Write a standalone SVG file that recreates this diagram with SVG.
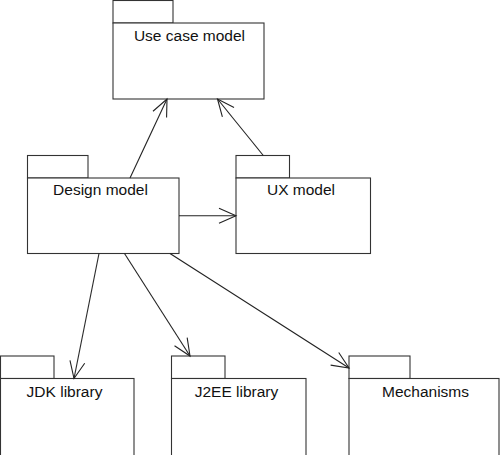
<svg xmlns="http://www.w3.org/2000/svg" width="500" height="455" viewBox="0 0 500 455">
<style>
.pk{fill:#fff;stroke:#333;stroke-width:1.1}
.lbl{font-family:"Liberation Sans",Arial,Helvetica,sans-serif;font-size:15.5px;fill:#111;text-anchor:middle}
.con{stroke:#222;stroke-width:1.1;fill:none}
</style>
<defs>
<marker id="open" viewBox="-20 -10 22 20" markerWidth="22" markerHeight="20" refX="0" refY="0" orient="auto" markerUnits="userSpaceOnUse">
<path d="M-17,-7.5 L0,0 L-17,7.5" fill="none" stroke="#222" stroke-width="1.1"/>
</marker>
</defs>
<rect width="500" height="455" fill="#fff"/>
<g id="use-case-model">
<rect class="pk" x="113" y="0.5" width="60" height="22.5"/>
<rect class="pk" x="113" y="23" width="151" height="76"/>
<text class="lbl" x="189.5" y="41">Use case model</text>
</g>
<g id="design-model">
<rect class="pk" x="27.5" y="155.5" width="60.5" height="22.5"/>
<rect class="pk" x="27.5" y="178" width="151.5" height="75.5"/>
<text class="lbl" x="100.5" y="195">Design model</text>
</g>
<g id="ux-model">
<rect class="pk" x="236" y="155.5" width="53.5" height="22.5"/>
<rect class="pk" x="236" y="178" width="134.5" height="75.5"/>
<text class="lbl" x="301" y="195">UX model</text>
</g>
<g id="jdk-library">
<rect class="pk" x="0.5" y="356" width="53.5" height="22.5"/>
<rect class="pk" x="0.5" y="378.5" width="133.5" height="80"/>
<text class="lbl" x="64.5" y="396.5">JDK library</text>
</g>
<g id="j2ee-library">
<rect class="pk" x="171.5" y="356" width="53.5" height="22.5"/>
<rect class="pk" x="171.5" y="378.5" width="134.5" height="80"/>
<text class="lbl" x="236.5" y="396.5">J2EE library</text>
</g>
<g id="mechanisms">
<rect class="pk" x="349" y="356" width="61" height="22.5"/>
<rect class="pk" x="349" y="378.5" width="150" height="80"/>
<text class="lbl" x="425.5" y="396.5">Mechanisms</text>
</g>
<g id="connectors">
<line class="con" x1="130" y1="178" x2="167" y2="99" marker-end="url(#open)"/>
<line class="con" x1="263.3" y1="155.5" x2="217.5" y2="99" marker-end="url(#open)"/>
<line class="con" x1="179" y1="215.7" x2="236" y2="215.7" marker-end="url(#open)"/>
<line class="con" x1="99" y1="253.5" x2="74" y2="378.5" marker-end="url(#open)"/>
<line class="con" x1="124.5" y1="253.5" x2="190" y2="356" marker-end="url(#open)"/>
<line class="con" x1="170" y1="253.5" x2="349" y2="368" marker-end="url(#open)"/>
</g>
</svg>
